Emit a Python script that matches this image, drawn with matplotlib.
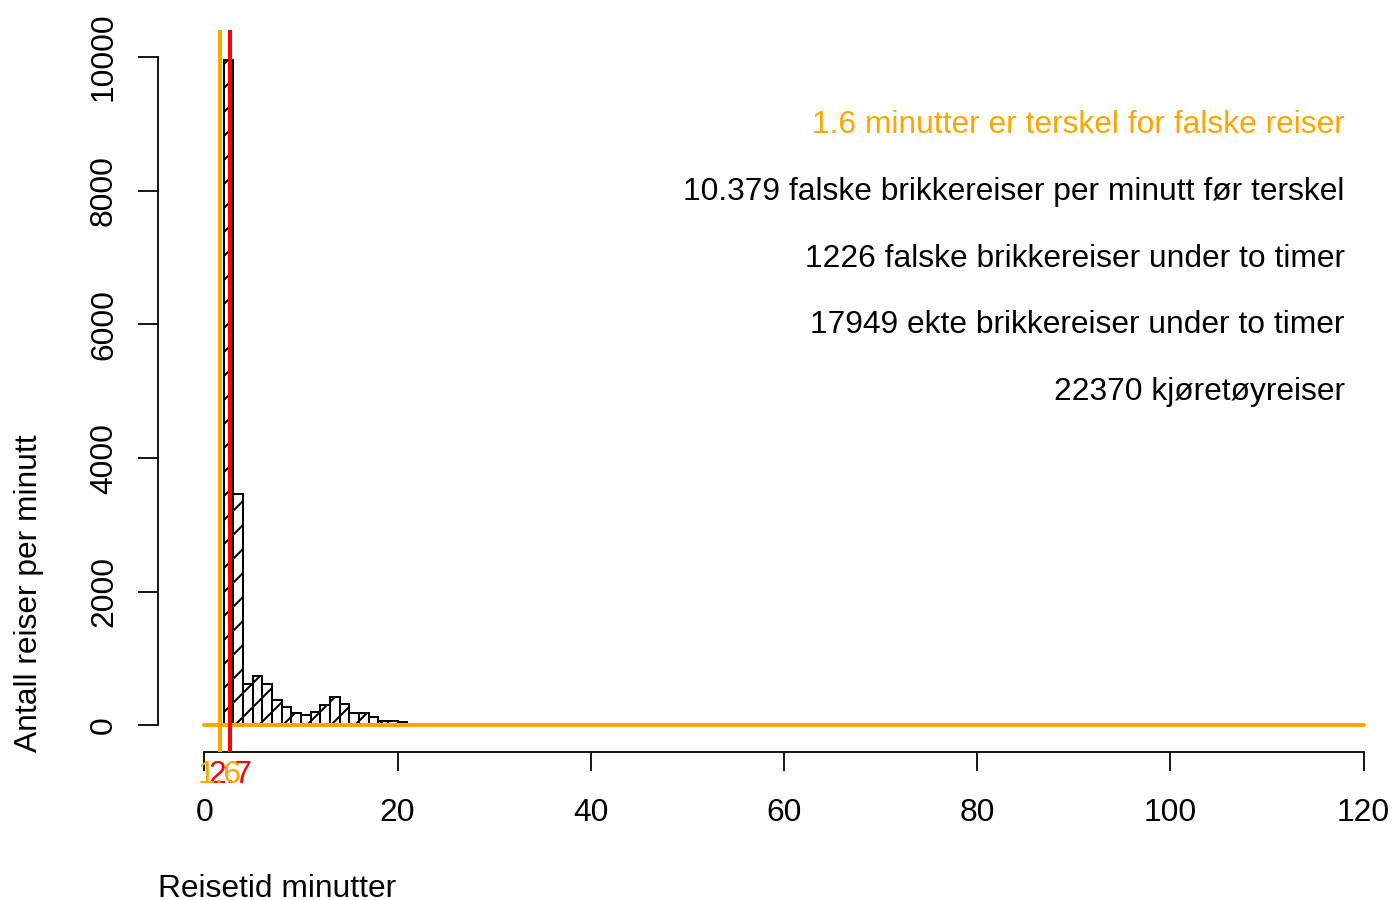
import matplotlib
matplotlib.use("Agg")
import matplotlib.pyplot as plt
from matplotlib import transforms
import numpy as np

# ---- data ----
bin_left = list(range(2, 33))  # left edges of 1-minute bins
counts = [9950, 3463, 613, 737, 613, 378, 279, 190, 150, 200, 300, 423, 314,
          190, 190, 120, 65, 65, 45, 25, 15, 10, 8, 6, 5, 4, 3, 3, 2, 2, 1]
threshold = 1.6
red_line = 2.7
x_ticks = [0, 20, 40, 60, 80, 100, 120]
y_ticks = [0, 2000, 4000, 6000, 8000, 10000]
xlabel = "Reisetid minutter"
ylabel = "Antall reiser per minutt"
notes = ["1.6 minutter er terskel for falske reiser",
         "10.379 falske brikkereiser per minutt før terskel",
         "1226 falske brikkereiser under to timer",
         "17949 ekte brikkereiser under to timer",
         "22370 kjøretøyreiser"]
note_colors = ["#FFA500", "black", "black", "black", "black"]
note_y = [9000, 8000, 7000, 6000, 5000]

ORANGE = "#FFA500"
RED = "#FF0000"

W, H, DPI = 1394, 900, 72
plt.rcParams['font.family'] = ['Liberation Sans', 'DejaVu Sans']
plt.rcParams['hatch.linewidth'] = 2.0
plt.rcParams['hatch.color'] = 'black'

fig = plt.figure(figsize=(W / DPI, H / DPI), dpi=DPI)
fig.patch.set_facecolor('white')

# axes placement in pixels (R plot region)
px_left, px_right = 158, 1410
px_top, px_bottom = 30.3, 752.2
ax = fig.add_axes([px_left / W, 1 - px_bottom / H,
                   (px_right - px_left) / W, (px_bottom - px_top) / H])
ax.set_xlim(-4.8, 124.8)
ax.set_ylim(-400, 10400)
ax.patch.set_alpha(0)

FS = 31.8

# histogram bars
ax.bar(bin_left, counts, width=1, align='edge', fill=False,
       edgecolor='black', linewidth=2, hatch='/', zorder=2)

# lines
ax.plot([0, 120], [0, 0], color=ORANGE, linewidth=4, solid_capstyle='round', zorder=3)
ax.axvline(threshold, color=ORANGE, linewidth=4, zorder=4)
ax.axvline(red_line, color=RED, linewidth=4, zorder=4)

# spines / axes
for s in ['top', 'right']:
    ax.spines[s].set_visible(False)
ax.spines['bottom'].set_bounds(0, 120)
ax.spines['left'].set_bounds(0, 10000)
ax.spines['bottom'].set_linewidth(1.8)
ax.spines['left'].set_linewidth(1.8)
ax.set_xticks(x_ticks)
ax.set_xticklabels([str(v) for v in x_ticks])
ax.set_yticks(y_ticks)
ax.set_yticklabels([str(v) for v in y_ticks])
ax.tick_params(axis='x', direction='out', length=19, width=1.8, pad=27, labelsize=FS)
ax.tick_params(axis='y', direction='out', length=20, width=1.8, pad=19, labelsize=FS,
               labelrotation=90)
for lbl in ax.get_yticklabels():
    lbl.set_va('center')

# threshold labels below axis
trans_lbl = transforms.blended_transform_factory(ax.transData, ax.transAxes)
trans_lbl = transforms.offset_copy(trans_lbl, fig=fig, x=0, y=-31, units='dots')
ax.text(red_line, 0, "2.7", color=RED, fontsize=FS, ha='center', va='baseline',
        transform=trans_lbl, clip_on=False)
ax.text(threshold, 0, "1.6", color=ORANGE, fontsize=FS, ha='center', va='baseline',
        transform=trans_lbl, clip_on=False)

# notes
trans_note = transforms.offset_copy(ax.transData, fig=fig, x=-19, y=-9, units='dots')
for txt, c, yv in zip(notes, note_colors, note_y):
    ax.text(120, yv, txt, color=c, fontsize=FS, ha='right', va='baseline',
            transform=trans_note)

# axis titles
fig.text(158 / W, 1 - 897 / H, xlabel, fontsize=FS, ha='left', va='baseline')
fig.text(37 / W, 1 - 752 / H, ylabel, fontsize=FS, ha='left', va='baseline',
         rotation=90, rotation_mode='anchor')

fig.savefig("out.png", dpi=DPI, facecolor='white')
